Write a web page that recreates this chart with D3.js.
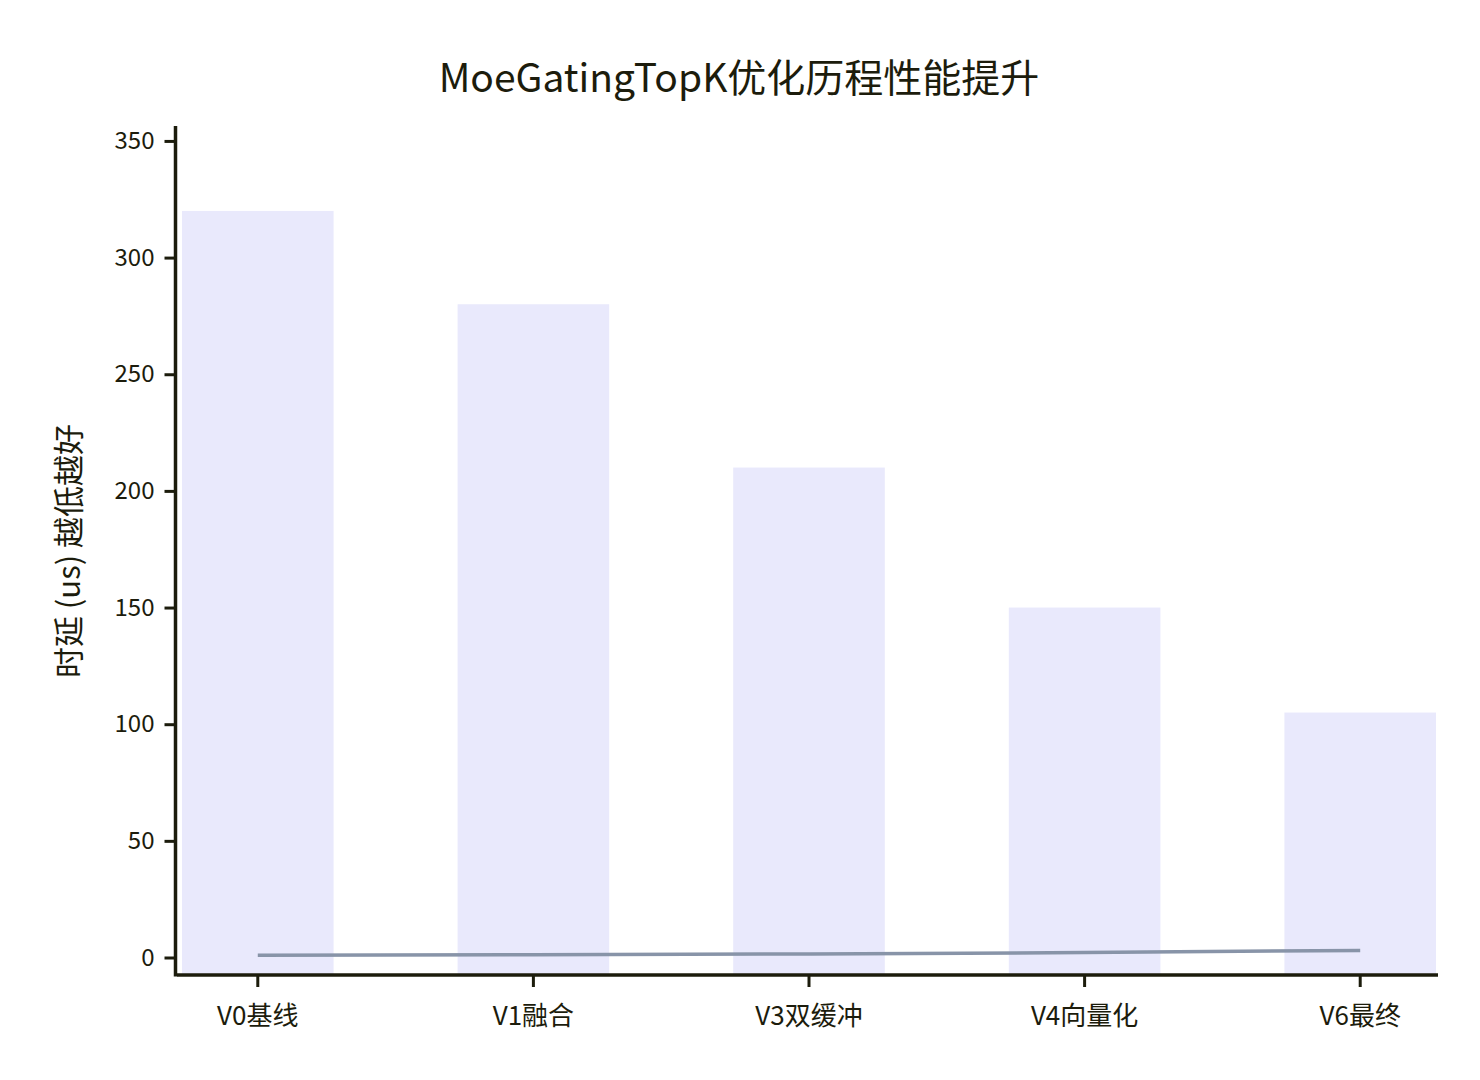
<!DOCTYPE html>
<html>
<head>
<meta charset="utf-8">
<script src="https://cdn.jsdelivr.net/npm/d3@7"></script>
<style>
  body { margin: 0; background: #fff; }
  text { font-family: "Noto Sans CJK SC", "Noto Sans", sans-serif; fill: #1c1c0c; }
</style>
</head>
<body>
<div id="chart"></div>
<script>
// data
var categories = ["V0基线", "V1融合", "V3双缓冲", "V4向量化", "V6最终"];
var latency = [320, 280, 210, 150, 105];
var speedup = [1.0, 1.14, 1.52, 2.13, 3.05];
var yTicks = [0, 50, 100, 150, 200, 250, 300, 350];

var W = 1480, H = 1080;
var ink = "#1c1c0c";

var svg = d3.select("#chart").append("svg")
    .attr("width", W)
    .attr("height", H);

// scales
var x = d3.scaleBand().domain(categories).range([182, 1436])
    .paddingInner(0.45).paddingOuter(0);
var y = d3.scaleLinear().domain([-7.5, 356.4]).range([975, 126]);

// bars
svg.selectAll(".bar").data(latency).enter().append("rect")
    .attr("class", "bar")
    .attr("x", function(d, i){ return x(categories[i]); })
    .attr("y", function(d){ return y(d); })
    .attr("width", x.bandwidth())
    .attr("height", function(d){ return y(-7.5) - y(d); })
    .attr("fill", "#e9e9fc");

// speedup line
var line = d3.line()
    .x(function(d, i){ return x(categories[i]) + x.bandwidth() / 2; })
    .y(function(d){ return y(d); });
svg.append("path").datum(speedup)
    .attr("d", line)
    .attr("fill", "none")
    .attr("stroke", "#8894a8")
    .attr("stroke-width", 3.5);

// y axis
var yAxis = d3.axisLeft(y).tickValues(yTicks).tickSize(11).tickPadding(10);
var yG = svg.append("g").attr("transform", "translate(175.5,0)").call(yAxis);
yG.select(".domain").remove();
yG.selectAll(".tick line").attr("stroke", ink).attr("stroke-width", 3);
yG.selectAll(".tick text").style("font-size", "24px").attr("fill", ink);
yG.append("line").attr("x1", 0).attr("x2", 0)
    .attr("y1", y.range()[1]).attr("y2", y.range()[0] + 1.5)
    .attr("stroke", ink).attr("stroke-width", 3.5);

// x axis
var xAxis = d3.axisBottom(x).tickSize(12).tickPadding(20);
var xG = svg.append("g").attr("transform", "translate(0,975)").call(xAxis);
xG.select(".domain").remove();
xG.selectAll(".tick line").attr("stroke", ink).attr("stroke-width", 3);
xG.selectAll(".tick text").style("font-size", "26px").attr("fill", ink);
xG.append("line").attr("x1", x.range()[0] - 5).attr("x2", x.range()[1] + 2)
    .attr("y1", 0).attr("y2", 0)
    .attr("stroke", ink).attr("stroke-width", 3.5);

// labels
svg.append("text")
    .attr("x", 739).attr("y", 92)
    .attr("text-anchor", "middle")
    .style("font-size", "39px")
    .text("MoeGatingTopK优化历程性能提升");

svg.append("text")
    .attr("transform", "translate(80,551) rotate(-90)")
    .attr("text-anchor", "middle")
    .style("font-size", "31px")
    .text("时延 (us) 越低越好");
</script>
</body>
</html>
